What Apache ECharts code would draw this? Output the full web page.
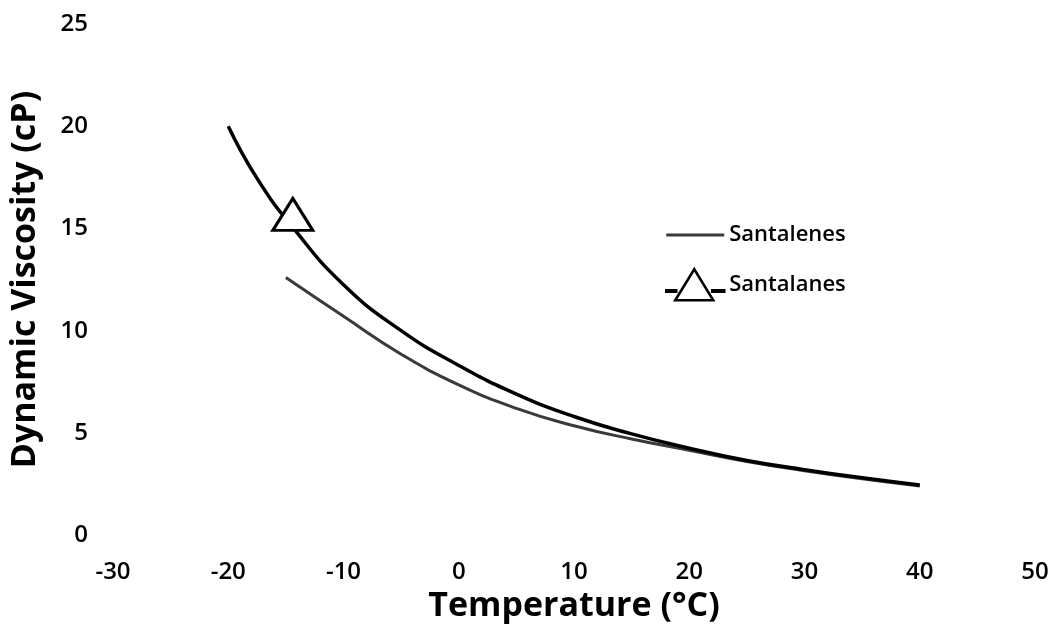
<!DOCTYPE html>
<html>
<head>
<meta charset="utf-8">
<script src="https://cdn.jsdelivr.net/npm/echarts@6/dist/echarts.min.js"></script>
<style>
html,body{margin:0;padding:0;background:#fff;}
#chart{width:1053px;height:628px;}
</style>
</head>
<body>
<div id="chart"></div>
<script>
// Temperatures (°C) and dynamic viscosities (cP)
const tempsSantalanes = [-20, -17.5, -14.4, -10, -5, 0, 5, 10, 15, 20, 25, 30, 35, 40];
const viscSantalanes  = [20.0, 17.45, 15.05, 12.25, 10.0, 8.3, 6.9, 5.8, 4.95, 4.25, 3.65, 3.2, 2.8, 2.45];
const tempsSantalenes = [-15, -10, -5, 0, 5, 10, 15, 20, 25, 30, 35, 40];
const viscSantalenes  = [12.6, 10.7, 8.85, 7.35, 6.2, 5.35, 4.7, 4.15, 3.6, 3.15, 2.75, 2.4];
const markerTemp = -14.4; // the single triangle marker on the Santalanes curve
const xTicks = {min: -30, max: 50, interval: 10};
const yTicks = {min: 0, max: 25, interval: 5};

const chart = echarts.init(document.getElementById('chart'));

const santalanesData = tempsSantalanes.map((t, i) => (
  t === markerTemp
    ? {value: [t, viscSantalanes[i]], symbolOffset: [0, -13]}
    : {value: [t, viscSantalanes[i]], symbol: 'none'}
));
const santalenesData = tempsSantalenes.map((t, i) => [t, viscSantalenes[i]]);

const labelFont = {fontFamily: 'Open Sans', fontSize: 24, color: '#000', fontWeight: 600};
const titleFont = {fontFamily: 'Open Sans', fontSize: 34, color: '#000', fontWeight: 'bold'};

chart.setOption({
  animation: false,
  backgroundColor: '#fff',
  grid: {left: 113, right: 18, top: 24, bottom: 92},
  legend: {
    orient: 'vertical',
    left: 660,
    top: 219,
    itemWidth: 58,
    itemHeight: 31,
    itemGap: 22,
    textStyle: {fontFamily: 'Open Sans', fontSize: 22, color: '#000', fontWeight: 600},
    data: [
      {name: 'Santalenes', icon: 'path://M0,0 L58,0 L58,3 L0,3 Z'},
      {name: 'Santalanes',
       icon: 'path://M0,21 L10,21 L10,22.5 L0,22.5 Z M9,31 L28,0 L47,31 Z M46,21 L58,21 L58,22.5 L46,22.5 Z',
       itemStyle: {color: '#fff', borderColor: '#000', borderWidth: 2.5}}
    ]
  },
  xAxis: {
    type: 'value',
    min: xTicks.min, max: xTicks.max, interval: xTicks.interval,
    name: 'Temperature (°C)',
    nameLocation: 'middle',
    nameGap: 50,
    nameTextStyle: titleFont,
    axisLine: {show: false},
    axisTick: {show: false},
    splitLine: {show: false},
    axisLabel: Object.assign({margin: 25}, labelFont)
  },
  yAxis: {
    type: 'value',
    min: yTicks.min, max: yTicks.max, interval: yTicks.interval,
    name: 'Dynamic Viscosity (cP)',
    nameLocation: 'middle',
    nameGap: 71,
    nameTextStyle: titleFont,
    axisLine: {show: false},
    axisTick: {show: false},
    splitLine: {show: false},
    axisLabel: Object.assign({margin: 25}, labelFont)
  },
  series: [
    {
      name: 'Santalenes',
      type: 'line',
      smooth: true,
      symbol: 'none',
      data: santalenesData,
      lineStyle: {color: '#3a3a3a', width: 3},
      itemStyle: {color: '#3a3a3a'},
      z: 2
    },
    {
      name: 'Santalanes',
      type: 'line',
      smooth: true,
      symbol: 'triangle',
      symbolSize: [40, 32],
      showSymbol: true,
      data: santalanesData,
      lineStyle: {color: '#000', width: 3.5},
      itemStyle: {color: '#fff', borderColor: '#000', borderWidth: 3},
      z: 3
    }
  ]
});
</script>
</body>
</html>
